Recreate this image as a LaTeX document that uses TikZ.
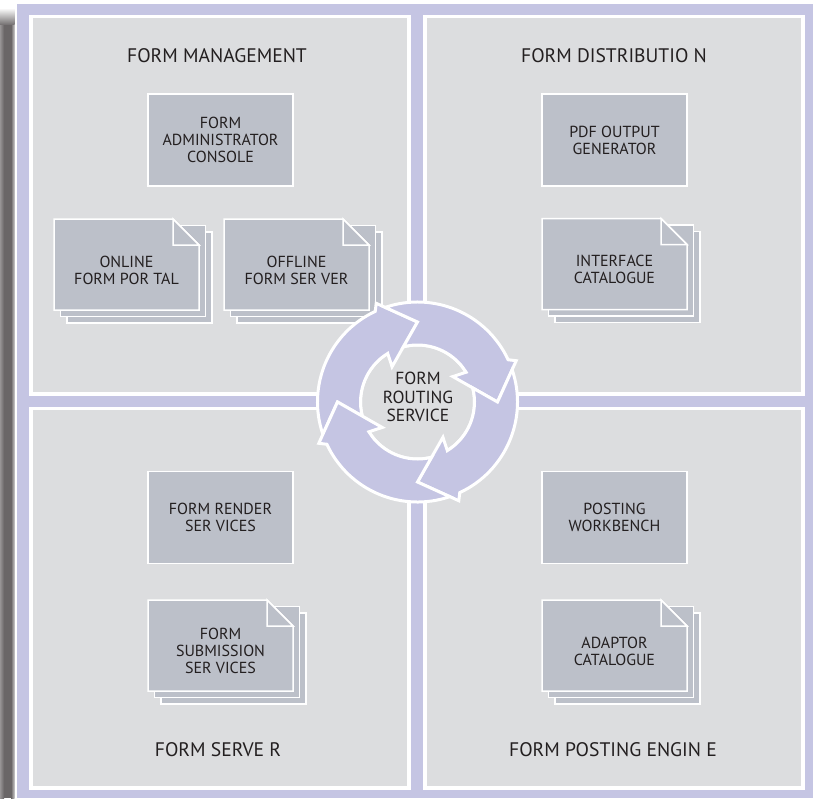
\documentclass[tikz,border=0pt]{standalone}
\usepackage{fontspec}
\setmainfont{PT Sans}
\definecolor{lavender}{HTML}{C5C5E3}
\definecolor{quadgray}{HTML}{DCDDDF}
\definecolor{boxgray}{HTML}{BCC0C9}
\definecolor{textgray}{HTML}{231F20}
\definecolor{shadowgray}{HTML}{6A6667}
\tikzset{
  quad/.style={fill=quadgray, draw=white, line width=3.3pt},
  box/.style={fill=boxgray, draw=white, line width=1.5pt, minimum width=145pt,
    minimum height=92pt, inner sep=0pt, align=center, text=textgray,
    font=\fontsize{16}{16.8}\selectfont},
  page/.style={fill=boxgray, draw=white, line width=1.5pt, line join=miter},
  lbl/.style={align=center, text=textgray, inner sep=0pt, font=\fontsize{16}{16.8}\selectfont},
  ttl/.style={text=textgray, inner sep=0pt, font=\fontsize{19.6}{24}\selectfont},
  ring/.style={fill=lavender, draw=white, line width=3pt, line join=miter}
}
% stack of three pages, #1,#2 = top left corner of the front page
\newcommand{\formdoc}[4]{%
  \draw[page] (#1+13,#2+13) rectangle ++(145,91);
  \draw[page] (#1+6.5,#2+6.5) rectangle ++(145,91);
  \draw[page] (#1,#2) -- ++(119,0) -- ++(26,26) -- ++(0,65) -- ++(-145,0) -- cycle;
  \draw[page] (#1+119,#2) -- ++(0,26) -- ++(26,0) -- cycle;
  \node[lbl] (#3) at (#1+72.5,#2+51) {#4};
}
\begin{document}
\begin{tikzpicture}[x=1pt,y=-1pt]
\useasboundingbox (0,0) rectangle (814,798);
\fill[white] (0,0) rectangle (814,798);
% shadow on the left
\shade[left color=shadowgray!70!white, right color=shadowgray] (0,24) rectangle (4,798);
\fill[shadowgray] (4,24) rectangle (11,798);
\shade[left color=shadowgray, right color=shadowgray!35!white] (11,24) rectangle (14.5,798);
\shade[top color=white, bottom color=shadowgray!90!white] (0,8) rectangle (14.5,24);
\fill[lavender] (17,4) rectangle (813,798);
% quadrants
\filldraw[quad] (31,16.5) rectangle (409,394);
\filldraw[quad] (425,16.5) rectangle (803,394);
\filldraw[quad] (31,408.3) rectangle (409,788);
\filldraw[quad] (425,408.3) rectangle (803,788);
\node[ttl] (mgmt) at (217,56) {FORM MANAGEMENT};
\node[ttl] (distr) at (614,56) {FORM DISTRIBUTIO N};
\node[ttl] (server) at (218,750) {FORM SERVE R};
\node[ttl] (posting) at (613,750) {FORM POSTING ENGIN E};
% boxes
\node[box] (admin) at (220.5,140) {FORM\\ADMINISTRATOR\\CONSOLE};
\node[box] (pdf) at (614.5,140) {PDF OUTPUT\\GENERATOR};
\node[box] (render) at (220.5,517.5) {FORM RENDER\\SER VICES};
\node[box] (bench) at (614.5,517.5) {POSTING\\WORKBENCH};
\formdoc{54}{219}{online}{ONLINE\\FORM POR TAL}
\formdoc{224}{219}{offline}{OFFLINE\\FORM SER VER}
\formdoc{542}{218.5}{iface}{INTERFACE\\CATALOGUE}
\formdoc{148}{600}{submit}{FORM\\SUBMISSION\\SER VICES}
\formdoc{542}{600}{adaptor}{ADAPTOR\\CATALOGUE}
% routing cycle
\begin{scope}[shift={(417.5,402)}, yscale=-1]
  \filldraw[quad, line width=3pt] (0,0) circle (57);
  \foreach \t in {90,0,-90,-180} {
    \filldraw[ring] (\t+108.85:100) arc[start angle=\t+108.85, end angle=\t+25, radius=100]
      -- (\t+22.7:107) -- (\t:80) -- (\t+35.8:43.5) -- (\t+31.5:57)
      arc[start angle=\t+31.5, end angle=\t+104.3, radius=57]
      -- (\t+90:80) -- cycle;
  }
\end{scope}
\node[lbl, font=\fontsize{17.5}{18.3}\selectfont] (routing) at (418,397) {FORM\\ROUTING\\SERVICE};
\end{tikzpicture}
\end{document}
